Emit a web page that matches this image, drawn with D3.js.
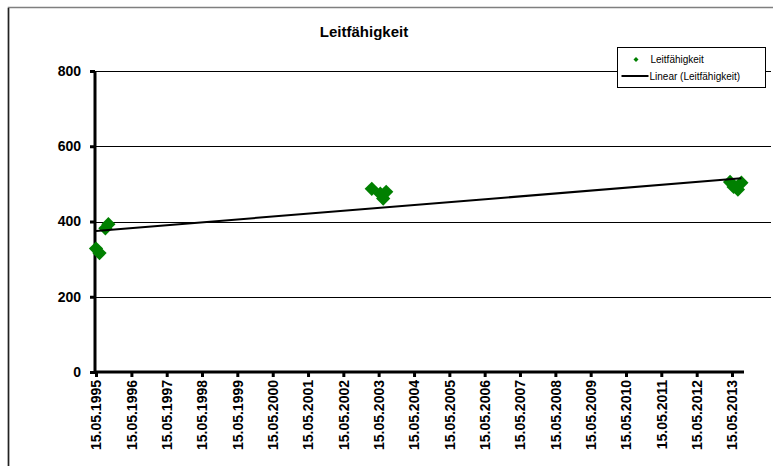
<!DOCTYPE html>
<html>
<head>
<meta charset="utf-8">
<script src="https://cdn.jsdelivr.net/npm/d3@7"></script>
<style>
  html, body { margin: 0; padding: 0; background: #fff; }
  svg { display: block; font-family: Arial, "Liberation Sans", sans-serif; }
</style>
</head>
<body>
<svg id="chart" width="773" height="466"></svg>
<script>
// Conductivity measurements (µS/cm) by sampling date
const sampleDates = [
  "1995-05-15", "1995-06-20", "1995-08-20", "1995-09-20",
  "2003-03-05", "2003-06-01", "2003-07-01", "2003-08-01",
  "2013-04-25", "2013-06-01", "2013-07-15", "2013-08-20"
];
const conductivity = [
  328, 316, 382, 393,
  487, 474, 461, 479,
  505, 492, 485, 503
];
const tickDates = [
  "1995-05-15", "1996-05-15", "1997-05-15", "1998-05-15", "1999-05-15",
  "2000-05-15", "2001-05-15", "2002-05-15", "2003-05-15", "2004-05-15",
  "2005-05-15", "2006-05-15", "2007-05-15", "2008-05-15", "2009-05-15",
  "2010-05-15", "2011-05-15", "2012-05-15", "2013-05-15"
];
const yTicks = [0, 200, 400, 600, 800];
const chartTitle = "Leitfähigkeit";
const seriesName = "Leitfähigkeit";
const trendName = "Linear (Leitfähigkeit)";

const parse = d3.timeParse("%Y-%m-%d");
const fmt = d3.timeFormat("%d.%m.%Y");
const points = sampleDates.map((d, i) => ({ date: parse(d), value: conductivity[i] }));
const ticks = tickDates.map(parse);

const svg = d3.select("#chart");
const W = 773, H = 466;
const plot = { left: 95, right: 771, top: 71, bottom: 372 };

// chart frame
svg.append("rect").attr("x", 8.5).attr("y", 7.5).attr("width", W + 20).attr("height", H + 20)
  .attr("fill", "#fff").attr("stroke", "#7f7f7f").attr("stroke-width", 1.5);
svg.append("line").attr("x1", 8.5).attr("x2", 8.5).attr("y1", 8).attr("y2", H)
  .attr("stroke", "#222").attr("stroke-width", 1.5);

// date axis: first and last yearly tick pin the scale
const x = d3.scaleTime()
  .domain([ticks[0], ticks[ticks.length - 1]])
  .range([plot.left + 1, 732]);
const y = d3.scaleLinear().domain([0, 800]).range([plot.bottom, plot.top]);

// horizontal gridlines
svg.append("g").selectAll("line").data(yTicks.filter(v => v > 0)).join("line")
  .attr("x1", plot.left).attr("x2", plot.right)
  .attr("y1", d => Math.round(y(d)) + 0.5).attr("y2", d => Math.round(y(d)) + 0.5)
  .attr("stroke", "#000").attr("stroke-width", 1);

// Y axis
const yAxis = svg.append("g").attr("transform", `translate(${plot.left},0)`)
  .call(d3.axisLeft(y).tickValues(yTicks).tickSize(5).tickPadding(9));
yAxis.select(".domain").attr("stroke", "#000").attr("stroke-width", 3)
  .attr("d", `M0,${plot.top}V${plot.bottom + 1}`);
yAxis.selectAll(".tick line").attr("stroke", "#000").attr("stroke-width", 3);
yAxis.selectAll(".tick text").attr("font-size", 14).attr("font-weight", "bold")
  .attr("font-family", "Arial, 'Liberation Sans', sans-serif").attr("fill", "#000");

// X axis (date axis, yearly ticks)
const lastTick = ticks[ticks.length - 1];
const xAxis = svg.append("g").attr("transform", `translate(0,${plot.bottom})`)
  .call(d3.axisBottom(x).tickValues(ticks).tickFormat(fmt).tickSize(5).tickPadding(8));
xAxis.select(".domain").attr("stroke", "#000").attr("stroke-width", 3)
  .attr("d", `M${plot.left - 1},0H${x(lastTick) + 12}`);
xAxis.selectAll(".tick line").attr("stroke", "#000").attr("stroke-width", 3);
xAxis.selectAll(".tick text")
  .attr("font-size", 14).attr("font-weight", "bold")
  .attr("font-family", "Arial, 'Liberation Sans', sans-serif").attr("fill", "#000")
  .attr("text-anchor", "end").attr("dy", "0.35em")
  .attr("transform", "translate(0,8) rotate(-90)")
  .attr("x", 0).attr("y", 0);

// least-squares linear trend over the sample dates
const xs = points.map(p => +p.date), ys = points.map(p => p.value);
const mx = d3.mean(xs), my = d3.mean(ys);
const slope = d3.sum(xs, (v, i) => (v - mx) * (ys[i] - my)) / d3.sum(xs, v => (v - mx) ** 2);
const icpt = my - slope * mx;
const [x0, x1] = d3.extent(xs);

// data markers
const diamond = d3.symbol().type(d3.symbolDiamond2).size(130);
svg.append("g").selectAll("path").data(points).join("path")
  .attr("d", diamond)
  .attr("transform", d => `translate(${x(d.date)},${y(d.value)})`)
  .attr("fill", "#008000");

svg.append("line")
  .attr("x1", x(new Date(x0))).attr("y1", y(slope * x0 + icpt))
  .attr("x2", x(new Date(x1))).attr("y2", y(slope * x1 + icpt))
  .attr("stroke", "#000").attr("stroke-width", 2);

// title
svg.append("text").attr("x", 364).attr("y", 37).attr("text-anchor", "middle")
  .attr("font-size", 15).attr("font-weight", "bold").text(chartTitle);

// legend
const lg = svg.append("g").attr("transform", "translate(617.5,47.5)");
lg.append("rect").attr("width", 148).attr("height", 40).attr("fill", "#fff")
  .attr("stroke", "#000").attr("stroke-width", 1);
lg.append("path").attr("d", d3.symbol().type(d3.symbolDiamond2).size(16))
  .attr("transform", "translate(18.5,12)").attr("fill", "#008000");
lg.append("text").attr("x", 33).attr("y", 15.5).attr("font-size", 10).text(seriesName);
lg.append("line").attr("x1", 4).attr("x2", 31).attr("y1", 28.5).attr("y2", 28.5)
  .attr("stroke", "#000").attr("stroke-width", 2);
lg.append("text").attr("x", 32).attr("y", 32).attr("font-size", 10).text(trendName);
</script>
</body>
</html>
